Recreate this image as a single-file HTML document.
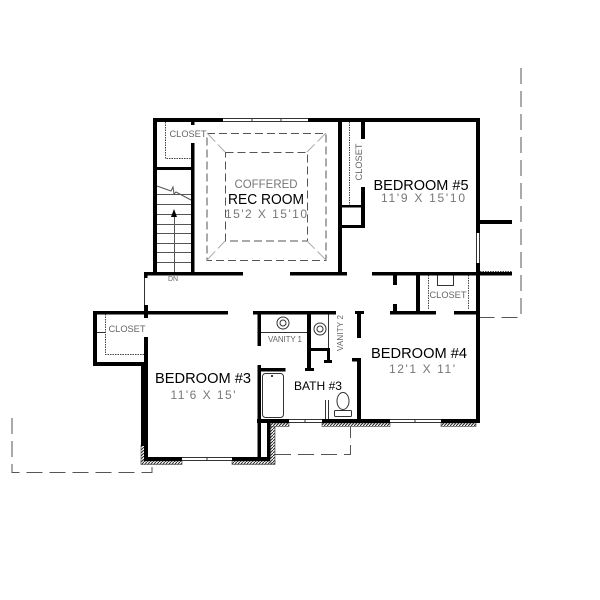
<!DOCTYPE html>
<html><head><meta charset="utf-8"><style>
html,body{margin:0;padding:0;background:#fff;width:600px;height:600px;overflow:hidden}
svg{display:block}
text{font-family:"Liberation Sans",sans-serif;text-anchor:middle}
.k{fill:#000;font-size:15px}
.g{fill:#777;font-size:12px}
.s{fill:#666;font-size:9px}
</style></head><body>
<svg width="600" height="600" viewBox="0 0 600 600" xmlns="http://www.w3.org/2000/svg">
<defs><pattern id="h" width="3" height="3" patternUnits="userSpaceOnUse"><rect width="3" height="3" fill="#fff"/><path d="M0 3L3 0" stroke="#222" stroke-width="1"/></pattern></defs>
<rect width="600" height="600" fill="#fff"/>

<!-- hatch -->
<g fill="url(#h)" stroke="#444" stroke-width=".6">
<rect x="141" y="445" width="6" height="19"/><rect x="141" y="461" width="41" height="3.5"/>
<rect x="232" y="461" width="43" height="3.5"/><rect x="270" y="423" width="5" height="40"/>
<rect x="270" y="423" width="19" height="3.5"/><rect x="322" y="423" width="68" height="3.5"/>
<rect x="441" y="423" width="35" height="3.5"/>
</g>

<!-- dashed site lines -->
<g fill="none" stroke="#555" stroke-width="1" stroke-dasharray="16 7">
<path d="M521 68V317.500H480"/><path d="M12 418V472.500H152V464"/><path d="M275 454.500H350.500V426"/>
</g>

<!-- coffered ceiling -->
<g fill="none" stroke="#555" stroke-width="1" stroke-dasharray="8 4">
<rect x="207" y="133.500" width="119" height="127"/><rect x="225.500" y="152.500" width="82" height="88.500"/>
</g>
<g stroke="#aaa" stroke-width="1" stroke-dasharray="12 4" fill="none">
<path d="M207 133L225 152M326 133L307 152M207 260L225 241M326 260L307 241"/>
</g>

<!-- thin details -->
<g fill="none" stroke="#333" stroke-width="1">
<path d="M223 118.500H308M223 121.500H308M252 118V122M281 118V122"/>
<path d="M476.500 233V263M479.500 233V263"/>
<path d="M182 457.500H232M182 460.500H232M207 457V461"/>
<path d="M289 419.500H322M289 422.500H322M305 419V423"/>
<path d="M390 419.500H441M390 422.500H441M415 419V423"/>
<path d="M144.500 275V305"/>
<path d="M97 332.500H105M261 332.500H307M328.500 314V348"/>
<path d="M325.500 400V419M328.500 400V419"/>
<path d="M437.500 275V285.500H453.500V275"/>
<rect x="262.500" y="373.500" width="21" height="44" rx="3"/>
<circle cx="283" cy="323" r="6"/><circle cx="283" cy="323" r="3"/>
<circle cx="320" cy="329" r="6"/><circle cx="320" cy="329" r="3"/>
<ellipse cx="343" cy="401" rx="6" ry="8.500"/><rect x="334.500" y="410.500" width="17" height="6" rx="1"/>
</g>
<g fill="none" stroke="#444" stroke-width="1" stroke-dasharray="1.500 1">
<path d="M165.500 122V158.500H191"/><path d="M349.500 122V205"/><path d="M428.500 275V310M468.500 275V310"/><path d="M105.500 314V354.500H145"/>
<path d="M480 271.500H512"/>
</g>
<circle cx="272" cy="376" r="1" fill="#000"/>

<!-- stairs -->
<g fill="none" stroke="#555" stroke-width="1">
<path d="M157 194.500H191M157 204.500H191M157 214.500H191M157 224.500H191M157 233.500H191M157 243.500H191M157 252.500H191M157 262.500H191"/>
<path d="M157 186L171 191L173 187L174 194L176 192L191 200"/>
<path d="M174.500 212V272"/>
</g>
<path d="M174 209L177 217H171Z" fill="#000"/>

<!-- walls -->
<g fill="#000">
<rect x="153" y="118" width="70" height="4"/><rect x="308" y="118" width="172" height="4"/>
<rect x="153" y="118" width="4" height="157"/><rect x="191" y="118" width="3.500" height="7"/>
<rect x="191" y="143" width="3.500" height="132"/><rect x="153" y="167" width="38" height="3"/>
<rect x="144" y="272" width="99" height="3.500"/><rect x="290" y="272" width="57" height="3.500"/>
<rect x="144" y="272" width="3.500" height="6"/>
<rect x="338" y="122" width="4" height="153"/><rect x="361" y="122" width="4" height="17"/>
<rect x="361" y="187" width="4" height="41"/><rect x="342" y="205" width="20" height="2.500"/><rect x="342" y="225" width="20" height="3"/>
<rect x="476" y="122" width="4" height="111"/><rect x="476" y="263" width="4" height="160"/>
<rect x="480" y="220" width="32" height="4"/><rect x="372" y="272" width="140" height="3.500"/>
<rect x="416" y="275" width="4" height="36"/><rect x="393" y="275" width="4" height="10"/><rect x="393" y="304" width="4" height="7"/>
<rect x="390" y="311" width="46" height="3.500"/><rect x="454" y="311" width="23" height="3.500"/>
<rect x="93" y="311" width="135" height="3.500"/><rect x="253" y="311" width="83" height="3.500"/>
<rect x="355" y="311" width="9" height="3"/><rect x="357" y="311" width="4" height="27"/>
<rect x="352" y="358" width="9" height="3.500"/><rect x="357" y="358" width="4" height="65"/>
<rect x="322" y="419" width="68" height="4"/><rect x="441" y="419" width="38" height="4"/><rect x="257" y="419" width="32" height="4"/>
<rect x="93" y="311" width="4" height="55"/><rect x="93" y="362" width="54" height="4"/>
<rect x="144" y="305" width="4" height="13"/><rect x="144" y="337" width="4" height="29"/>
<rect x="141" y="366" width="7" height="80"/><rect x="144" y="440" width="4" height="21"/>
<rect x="144" y="457" width="38" height="4"/><rect x="232" y="457" width="38" height="4"/>
<rect x="257.500" y="314" width="3.500" height="32"/><rect x="257.500" y="365" width="3.500" height="94"/>
<rect x="257.500" y="368" width="28" height="3.500"/><rect x="267" y="423" width="3.500" height="36"/>
<rect x="307" y="314" width="4" height="55"/><rect x="311" y="348" width="19" height="3"/><rect x="327" y="351" width="3" height="11"/>
<rect x="324" y="360" width="8" height="3"/><rect x="305" y="368" width="9" height="3"/>
</g>

<!-- labels -->
<text class="g" x="266" y="188" textLength="63" lengthAdjust="spacingAndGlyphs">COFFERED</text>
<text class="k" x="266" y="204" textLength="76" lengthAdjust="spacingAndGlyphs">REC ROOM</text>
<text class="g" x="266" y="218" textLength="82" lengthAdjust="spacing">15'2 X 15'10</text>
<text class="k" x="421" y="190" textLength="95" lengthAdjust="spacingAndGlyphs">BEDROOM #5</text>
<text class="g" x="423" y="202" textLength="84" lengthAdjust="spacing">11'9 X 15'10</text>
<text class="k" x="419" y="358" textLength="96" lengthAdjust="spacingAndGlyphs">BEDROOM #4</text>
<text class="g" x="422" y="373" textLength="66" lengthAdjust="spacing">12'1 X 11'</text>
<text class="k" x="203" y="383" textLength="96" lengthAdjust="spacingAndGlyphs">BEDROOM #3</text>
<text class="g" x="203" y="399" textLength="65" lengthAdjust="spacing">11'6 X 15'</text>
<text x="318" y="390" textLength="48" lengthAdjust="spacingAndGlyphs" style="font-size:12px;fill:#000">BATH #3</text>
<text class="s" x="188" y="137" textLength="37" lengthAdjust="spacingAndGlyphs">CLOSET</text>
<text class="s" x="127" y="332" textLength="37" lengthAdjust="spacingAndGlyphs">CLOSET</text>
<text class="s" x="448" y="298" textLength="37" lengthAdjust="spacingAndGlyphs">CLOSET</text>
<text class="s" transform="translate(362 162) rotate(-90)" textLength="37" lengthAdjust="spacingAndGlyphs">CLOSET</text>
<text class="s" x="285" y="342" textLength="34" lengthAdjust="spacing" style="font-size:8px">VANITY 1</text>
<text class="s" transform="translate(343 333) rotate(-90)" textLength="36" lengthAdjust="spacing" style="font-size:8px">VANITY 2</text>
<text class="s" x="173" y="281" style="font-size:7px">DN</text>
</svg>
</body></html>
